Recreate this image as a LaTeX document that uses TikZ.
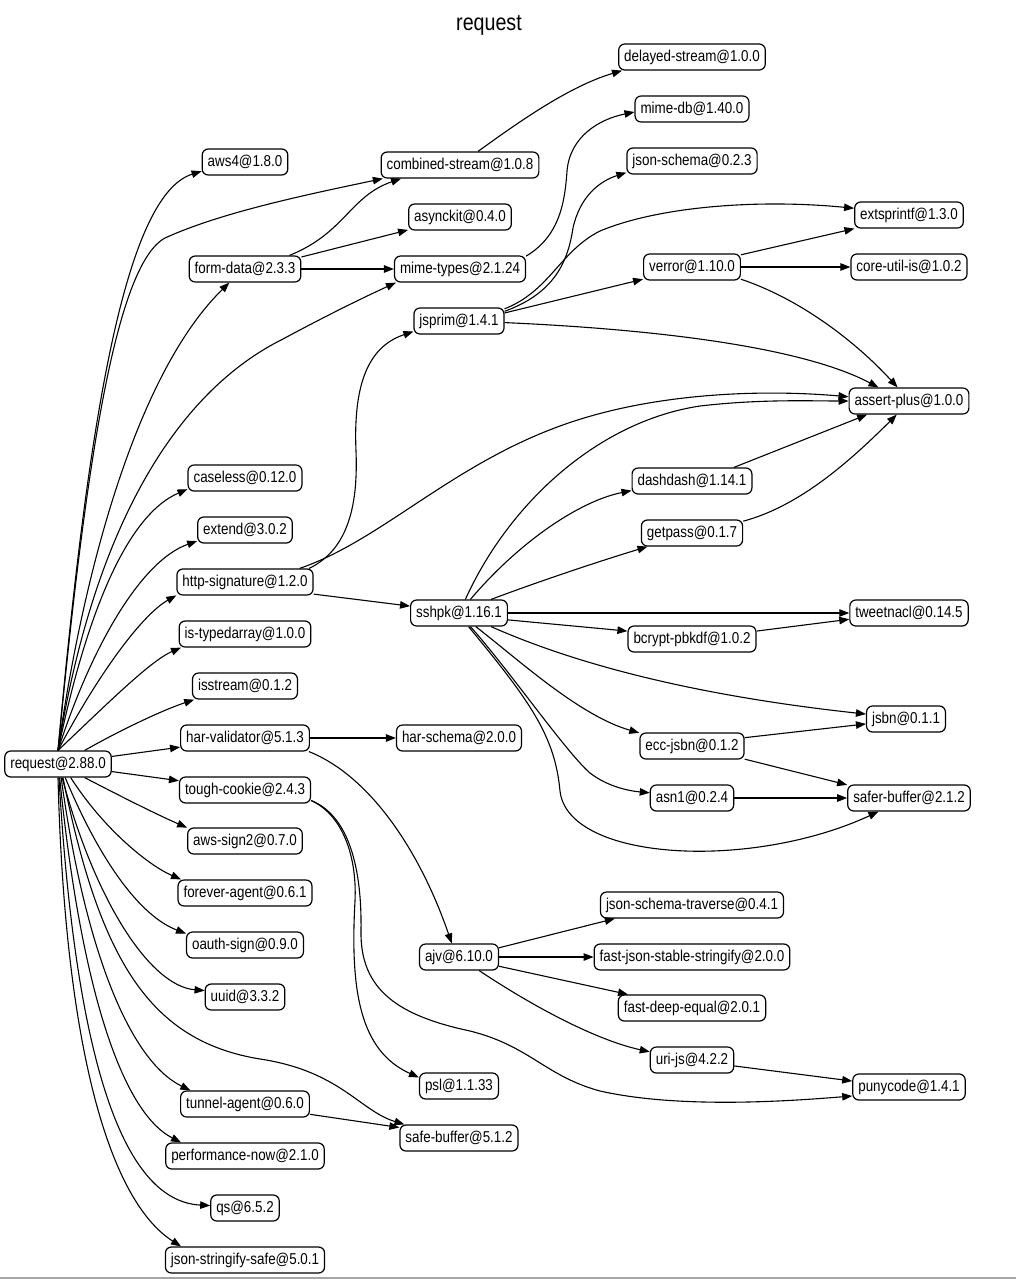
\documentclass[tikz,border=0pt]{standalone}
\usepackage{fontspec}
\setmainfont{Liberation Sans}[FakeStretch=0.85]
\newfontfamily\titlefam{Liberation Sans}[FakeStretch=0.84]
\usetikzlibrary{arrows.meta}
\newcommand{\pkgfont}{\fontsize{15.8}{18}\selectfont}
\newcommand{\titlefont}{\titlefam\fontsize{23.5}{26}\selectfont}
\tikzset{
  pkg/.style={draw, rounded corners=6bp, line width=1.2bp, minimum height=26bp,
    inner xsep=5.5bp, inner ysep=0pt, font=\pkgfont, fill=white},
  dep/.style={-{Triangle[length=10bp,width=7.5bp]}, line width=1.1bp},
}
\begin{document}
\begin{tikzpicture}[x=1bp,y=-1bp]
\useasboundingbox (0,0) rectangle (1016,1281);
\draw[gray!70, line width=1.5bp] (0,1278) -- (1016,1278);
\node[font=\titlefont] (title) at (489,25) {request};

% nodes
\node[pkg] (req) at (58,764) {request@2.88.0};
\node[pkg] (aws4) at (245,162) {aws4@1.8.0};
\node[pkg] (cs) at (460,165) {combined-stream@1.0.8};
\node[pkg] (ds) at (692,57) {delayed-stream@1.0.0};
\node[pkg] (mdb) at (692,109) {mime-db@1.40.0};
\node[pkg] (js) at (692,161) {json-schema@0.2.3};
\node[pkg] (ak) at (460,217) {asynckit@0.4.0};
\node[pkg] (fd) at (245,269) {form-data@2.3.3};
\node[pkg] (mt) at (460,269) {mime-types@2.1.24};
\node[pkg] (ext) at (909,215) {extsprintf@1.3.0};
\node[pkg] (ver) at (692,267) {verror@1.10.0};
\node[pkg] (cui) at (909,267) {core-util-is@1.0.2};
\node[pkg] (jsp) at (459,321) {jsprim@1.4.1};
\node[pkg] (ap) at (909,401) {assert-plus@1.0.0};
\node[pkg] (cl) at (245,478) {caseless@0.12.0};
\node[pkg] (exd) at (245,530) {extend@3.0.2};
\node[pkg] (dd) at (692,481) {dashdash@1.14.1};
\node[pkg] (gp) at (692,533) {getpass@0.1.7};
\node[pkg] (hs) at (245,582) {http-signature@1.2.0};
\node[pkg] (ssh) at (459,613) {sshpk@1.16.1};
\node[pkg] (tw) at (909,613) {tweetnacl@0.14.5};
\node[pkg] (bp) at (692,639) {bcrypt-pbkdf@1.0.2};
\node[pkg] (ita) at (245,634) {is-typedarray@1.0.0};
\node[pkg] (iss) at (245,686) {isstream@0.1.2};
\node[pkg] (jsbn) at (906,719) {jsbn@0.1.1};
\node[pkg] (hv) at (245,738) {har-validator@5.1.3};
\node[pkg] (hsc) at (459,738) {har-schema@2.0.0};
\node[pkg] (ecc) at (692,746) {ecc-jsbn@0.1.2};
\node[pkg] (tc) at (245,790) {tough-cookie@2.4.3};
\node[pkg] (asn) at (692,798) {asn1@0.2.4};
\node[pkg] (sfb) at (909,798) {safer-buffer@2.1.2};
\node[pkg] (as2) at (245,841) {aws-sign2@0.7.0};
\node[pkg] (fa) at (245,893) {forever-agent@0.6.1};
\node[pkg] (jst) at (692,905) {json-schema-traverse@0.4.1};
\node[pkg] (oa) at (245,945) {oauth-sign@0.9.0};
\node[pkg] (ajv) at (459,957) {ajv@6.10.0};
\node[pkg] (fjss) at (692,957) {fast-json-stable-stringify@2.0.0};
\node[pkg] (uuid) at (245,997) {uuid@3.3.2};
\node[pkg] (fde) at (692,1008) {fast-deep-equal@2.0.1};
\node[pkg] (uri) at (692,1060) {uri-js@4.2.2};
\node[pkg] (psl) at (459,1086) {psl@1.1.33};
\node[pkg] (puny) at (909,1087) {punycode@1.4.1};
\node[pkg] (ta) at (245,1104) {tunnel-agent@0.6.0};
\node[pkg] (sb) at (459,1138) {safe-buffer@5.1.2};
\node[pkg] (pn) at (245,1156) {performance-now@2.1.0};
\node[pkg] (qs) at (245,1208) {qs@6.5.2};
\node[pkg] (jss) at (245,1260) {json-stringify-safe@5.0.1};

% request edges
\draw[dep] (req.north) .. controls (88,420) and (125,195) .. (aws4.192);
\draw[dep] (req.north) .. controls (85,470) and (115,265) .. (165,238) .. controls (220,213) and (300,196) .. (cs.190);
\draw[dep] (req.north) .. controls (85,560) and (140,370) .. (fd.221);
\draw[dep] (req.north) .. controls (95,520) and (180,390) .. (283,339) .. controls (320,319) and (360,299) .. (mt.192);
\draw[dep] (req.north) .. controls (85,620) and (125,516) .. (cl.191);
\draw[dep] (req.north) .. controls (90,650) and (140,561) .. (exd.193);
\draw[dep] (req.north) .. controls (95,680) and (140,616) .. (hs.191);
\draw[dep] (req.north) .. controls (105,706) and (150,661) .. (ita.192);
\draw[dep] (req.27) .. controls (115,733) and (160,711) .. (iss.195);
\draw[dep] (req.8) -- (hv.188);
\draw[dep] (req.352) -- (tc.172);
\draw[dep] (req.333) .. controls (120,796) and (160,816) .. (as2.167);
\draw[dep] (req.313) .. controls (105,831) and (150,866) .. (fa.168);
\draw[dep] (req.298) .. controls (100,861) and (140,916) .. (oa.169);
\draw[dep] (req.287) .. controls (95,901) and (150,986) .. (uuid.171);
\draw[dep] (req.290) .. controls (100,961) and (150,1041) .. (260,1059) .. controls (340,1071) and (360,1111) .. (sb.166);
\draw[dep] (req.283) .. controls (85,951) and (130,1061) .. (ta.166);
\draw[dep] (req.277) .. controls (80,981) and (120,1111) .. (pn.168);
\draw[dep] (req.274) .. controls (75,1051) and (120,1201) .. (qs.176);
\draw[dep] (req.south) .. controls (65,1051) and (110,1201) .. (jss.168);

% form-data
\draw[dep] (fd.17) .. controls (345,233) and (350,196) .. (cs.193);
\draw[dep] (fd.12) -- (ak.194);
\draw[dep] (fd.east) -- (mt.west);
\draw[dep] (cs.37) .. controls (520,121) and (570,86) .. (ds.191);
\draw[dep] (mt.11) .. controls (560,236) and (565,201) .. (567,171) .. controls (570,136) and (600,119) .. (mdb.183);

% jsprim
\draw[dep] (jsp.12) .. controls (555,293) and (568,261) .. (573,228) .. controls (580,196) and (600,181) .. (js.190);
\draw[dep] (jsp.15) .. controls (550,291) and (560,251) .. (600,231) .. controls (660,206) and (760,199) .. (ext.173);
\draw[dep] (jsp.10) -- (ver.194);
\draw[dep] (jsp.358) .. controls (650,329) and (800,346) .. (ap.156);

% verror
\draw[dep] (ver.14) -- (ext.194);
\draw[dep] (ver.east) -- (cui.west);
\draw[dep] (ver.346) .. controls (800,299) and (855,341) .. (ap.130);

% http-signature
\draw[dep] (hs.12) .. controls (350,549) and (358,501) .. (356,451) .. controls (353,381) and (370,346) .. (jsp.193);
\draw[dep] (hs.14) .. controls (380,541) and (450,466) .. (560,426) .. controls (650,393) and (760,389) .. (ap.176);
\draw[dep] (hs.350) -- (ssh.172);

% sshpk
\draw[dep] (ssh.65) .. controls (510,501) and (600,421) .. (700,406) .. controls (760,399) and (810,401) .. (ap.180);
\draw[dep] (ssh.50) .. controls (520,541) and (580,501) .. (dd.189);
\draw[dep] (ssh.23) .. controls (540,581) and (600,561) .. (gp.197);
\draw[dep] (ssh.east) -- (tw.west);
\draw[dep] (ssh.352) -- (bp.173);
\draw[dep] (ssh.337) .. controls (580,666) and (700,696) .. (jsbn.173);
\draw[dep] (ssh.321) .. controls (520,661) and (580,716) .. (ecc.166);
\draw[dep] (ssh.310) .. controls (510,671) and (565,751) .. (590,773) .. controls (608,787) and (630,791) .. (asn.173);
\draw[dep] (ssh.305) .. controls (530,701) and (555,736) .. (560,791) .. controls (568,861) and (750,871) .. (sfb.204);

\draw[dep] (dd.18) -- (ap.198);
\draw[dep] (gp.13) .. controls (800,506) and (850,461) .. (ap.228);
\draw[dep] (bp.7) -- (tw.186);
\draw[dep] (ecc.9) -- (jsbn.187);
\draw[dep] (ecc.346) -- (sfb.168);
\draw[dep] (asn.east) -- (sfb.west);

% har-validator
\draw[dep] (hv.east) -- (hsc.west);
\draw[dep] (hv.348) .. controls (370,776) and (420,851) .. (ajv.118);

% tough-cookie
\draw[dep] (tc.351) .. controls (345,816) and (357,861) .. (355,901) .. controls (350,991) and (360,1051) .. (psl.168);
\draw[dep] (tc.351) .. controls (350,816) and (362,871) .. (361,931) .. controls (360,991) and (400,1016) .. (470,1031) .. controls (530,1046) and (545,1076) .. (600,1091) .. controls (680,1109) and (790,1101) .. (puny.189);

% ajv
\draw[dep] (ajv.13) -- (jst.190);
\draw[dep] (ajv.east) -- (fjss.west);
\draw[dep] (ajv.347) -- (fde.168);
\draw[dep] (ajv.326) .. controls (540,1011) and (600,1041) .. (uri.169);
\draw[dep] (uri.352) -- (puny.174);

% tunnel-agent
\draw[dep] (ta.351) -- (sb.170);
\end{tikzpicture}
\end{document}
